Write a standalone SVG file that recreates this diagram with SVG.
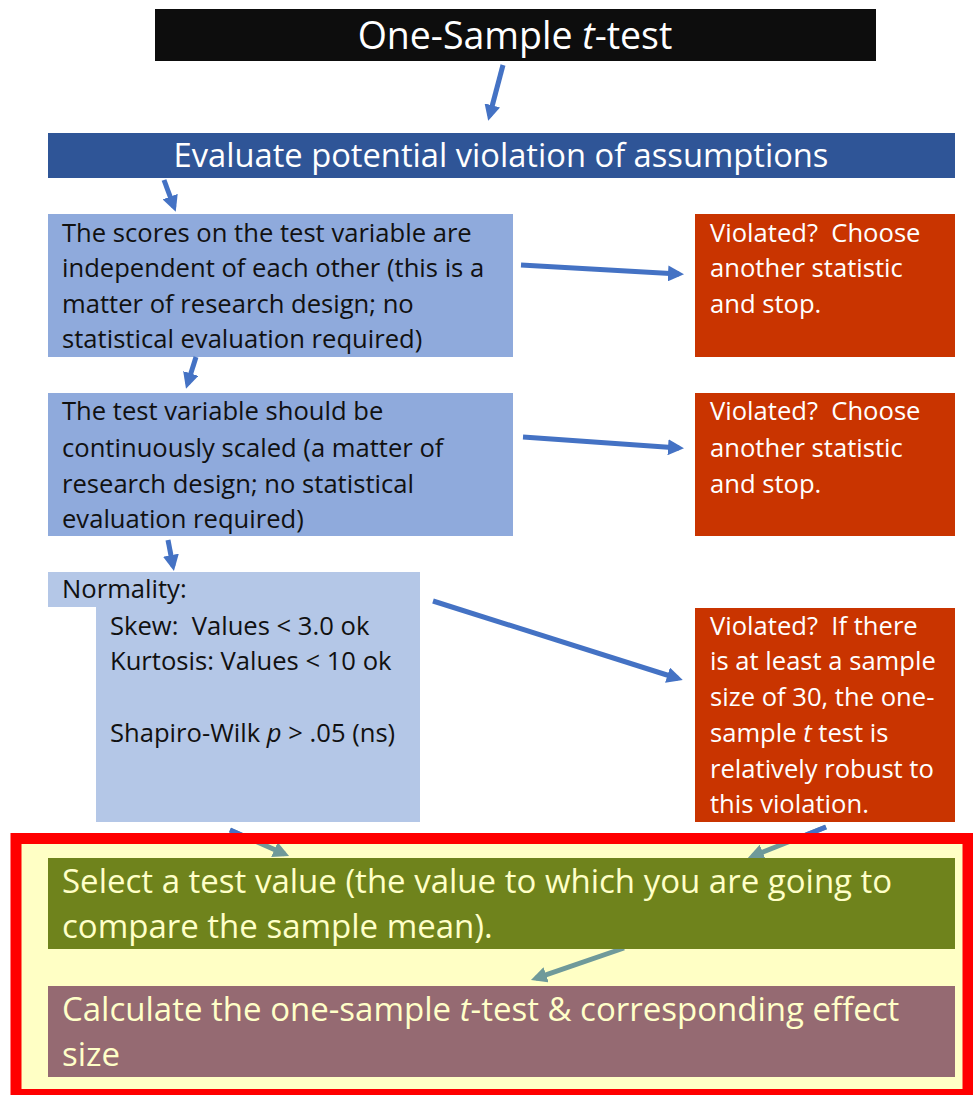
<svg xmlns="http://www.w3.org/2000/svg" width="973" height="1095" viewBox="0 0 973 1095">
<style>
text{font-family:"Open Sans","Liberation Sans",sans-serif}
.bt{font-size:25.6px;fill:#111}
.wt{font-size:25.6px;fill:#fff}
.yt{font-size:33px;fill:#FFFFC8}
.blue{stroke:#4472C4;stroke-width:5;fill:none}
.teal{stroke:#6F9A9A;stroke-width:5;fill:none}
</style>
<defs>
<marker id="ab" viewBox="0 0 16 16" refX="11" refY="8" markerWidth="16" markerHeight="16" markerUnits="userSpaceOnUse" orient="auto"><path d="M0,0 L16,8 L0,16 z" fill="#4472C4"/></marker>
<marker id="at" viewBox="0 0 16 16" refX="11" refY="8" markerWidth="16" markerHeight="16" markerUnits="userSpaceOnUse" orient="auto"><path d="M0,0 L16,8 L0,16 z" fill="#6F9A9A"/></marker>
</defs>
<rect width="973" height="1095" fill="#fff"/>
<g id="title">
<rect x="155" y="9" width="721" height="52" fill="#0D0D0D"/>
<text x="515" y="49" text-anchor="middle" style="font-size:37.5px;fill:#fff">One-Sample <tspan font-style="italic">t</tspan>-test</text>
</g>
<g id="evaluate">
<rect x="48" y="133" width="907" height="45" fill="#2F5597"/>
<text x="501" y="167" text-anchor="middle" style="font-size:32.7px;fill:#fff">Evaluate potential violation of assumptions</text>
</g>
<g id="independence">
<rect x="48" y="214" width="465" height="143" fill="#8FAADC"/>
<text class="bt" x="62" y="242">The scores on the test variable are</text>
<text class="bt" x="62" y="277">independent of each other (this is a</text>
<text class="bt" x="62" y="313">matter of research design; no</text>
<text class="bt" x="62" y="348">statistical evaluation required)</text>
</g>
<g id="violated1">
<rect x="695" y="214" width="260" height="143" fill="#C93400"/>
<text class="wt" x="710" y="242" xml:space="preserve">Violated?  Choose</text>
<text class="wt" x="710" y="277">another statistic</text>
<text class="wt" x="710" y="313">and stop.</text>
</g>
<g id="continuous">
<rect x="48" y="393" width="465" height="143" fill="#8FAADC"/>
<text class="bt" x="62" y="420">The test variable should be</text>
<text class="bt" x="62" y="457">continuously scaled (a matter of</text>
<text class="bt" x="62" y="493">research design; no statistical</text>
<text class="bt" x="62" y="528">evaluation required)</text>
</g>
<g id="violated2">
<rect x="695" y="393" width="260" height="143" fill="#C93400"/>
<text class="wt" x="710" y="420" xml:space="preserve">Violated?  Choose</text>
<text class="wt" x="710" y="457">another statistic</text>
<text class="wt" x="710" y="493">and stop.</text>
</g>
<g id="normality">
<path d="M48,572 H420 V822 H96 V607 H48 Z" fill="#B4C7E7"/>
<text class="bt" x="62" y="598">Normality:</text>
<text class="bt" x="110" y="635" xml:space="preserve">Skew:  Values &lt; 3.0 ok</text>
<text class="bt" x="110" y="670">Kurtosis: Values &lt; 10 ok</text>
<text class="bt" x="110" y="742">Shapiro-Wilk <tspan font-style="italic">p</tspan> &gt; .05 (ns)</text>
</g>
<g id="violated3">
<rect x="695" y="608" width="260" height="214" fill="#C93400"/>
<text class="wt" x="710" y="635" xml:space="preserve">Violated?  If there</text>
<text class="wt" x="710" y="670">is at least a sample</text>
<text class="wt" x="710" y="706">size of 30, the one-</text>
<text class="wt" x="710" y="742">sample <tspan font-style="italic">t</tspan> test is</text>
<text class="wt" x="710" y="778">relatively robust to</text>
<text class="wt" x="710" y="813">this violation.</text>
</g>
<g id="frame-fill">
<rect x="16" y="838.5" width="952" height="256" fill="#FFFFC5"/>
</g>
<g id="connectors">
<line class="blue" x1="503" y1="65" x2="489.5" y2="116" marker-end="url(#ab)"/>
<line class="blue" x1="164" y1="180" x2="174" y2="207" marker-end="url(#ab)"/>
<line class="blue" x1="521" y1="265" x2="679" y2="274" marker-end="url(#ab)"/>
<line class="blue" x1="196" y1="357" x2="187.5" y2="384" marker-end="url(#ab)"/>
<line class="blue" x1="523" y1="437" x2="679" y2="448" marker-end="url(#ab)"/>
<line class="blue" x1="168" y1="540" x2="173" y2="566" marker-end="url(#ab)"/>
<line class="blue" x1="433" y1="601" x2="678" y2="678.5" marker-end="url(#ab)"/>
<line class="teal" x1="230" y1="830" x2="284.5" y2="854" marker-end="url(#at)"/>
<line class="blue" x1="230" y1="830" x2="243" y2="835.7"/>
<line class="teal" x1="826" y1="827" x2="752.5" y2="856.2" marker-end="url(#at)"/>
<line class="blue" x1="826" y1="827" x2="806" y2="835"/>
<line class="teal" x1="624" y1="948" x2="535.7" y2="978.4" marker-end="url(#at)"/>
</g>
<g id="frame-border">
<rect x="16" y="838.5" width="952" height="256" fill="none" stroke="#FF0000" stroke-width="11"/>
</g>
<g id="select">
<rect x="48" y="858" width="907" height="91" fill="#6F831C"/>
<text class="yt" x="62" y="893">Select a test value (the value to which you are going to</text>
<text class="yt" x="62" y="938">compare the sample mean).</text>
</g>
<g id="calculate">
<rect x="48" y="986" width="907" height="91" fill="#956A72"/>
<text class="yt" x="62" y="1021">Calculate the one-sample <tspan font-style="italic">t</tspan>-test &amp; corresponding effect</text>
<text class="yt" x="62" y="1066">size</text>
</g>
</svg>
